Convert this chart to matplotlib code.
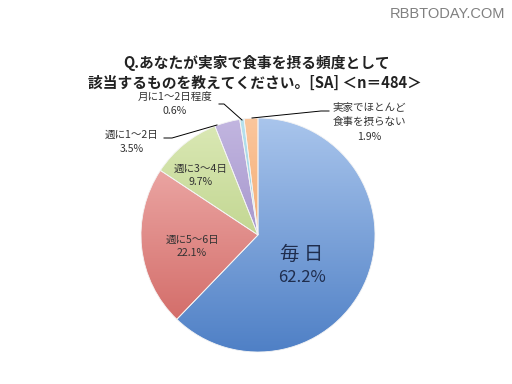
import matplotlib
matplotlib.use("Agg")
import matplotlib.pyplot as plt
import numpy as np
import matplotlib.colors as mcolors

plt.rcParams['font.family'] = ['Noto Sans CJK JP', 'DejaVu Sans']

# data
labels = ["毎 日", "週に5～6日", "週に3～4日", "週に1～2日", "月に1～2日程度", "実家でほとんど\n食事を摂らない"]
values = [62.2, 22.1, 9.7, 3.5, 0.6, 1.9]
pct_text = ["62.2%", "22.1%", "9.7%", "3.5%", "0.6%", "1.9%"]
light = ["#a9c5ec", "#f2b7b5", "#dbe9b6", "#c2b6e0", "#b8e2ee", "#fbc69c"]
dark = ["#4f80c6", "#cf625e", "#abc56f", "#8c79bb", "#6cb8cf", "#ee9550"]

H = 384
def Y(py):
    return H - py

fig = plt.figure(figsize=(5.12, 3.84), dpi=100)
ax = fig.add_axes([0, 0, 1, 1])

cx, cy, r = 258, 235, 117
wedges, _ = ax.pie(values, startangle=90, counterclock=False,
                   center=(cx, Y(cy)), radius=r,
                   colors=dark, wedgeprops=dict(edgecolor="#f4f4f4", linewidth=0.6))

# vertical gradient fill for each slice
grad = np.linspace(0, 1, 256).reshape(-1, 1)
for w, c1, c2 in zip(wedges, light, dark):
    cmap = mcolors.LinearSegmentedColormap.from_list("g", [c2, c1])
    im = ax.imshow(grad, cmap=cmap, origin="lower", aspect="auto",
                   extent=(cx - r, cx + r, Y(cy) - r, Y(cy) + r), zorder=w.get_zorder() + 0.1)
    im.set_clip_path(w)
    w.set_facecolor("none")
    w.set_zorder(w.get_zorder() + 0.2)

ax.set_xlim(0, 512)
ax.set_ylim(0, 384)
ax.set_aspect("equal")
ax.axis("off")

# title and watermark
ax.text(257, Y(63), "Q.あなたが実家で食事を摂る頻度として", ha="center", va="center",
        fontsize=10.6, fontweight="bold", color="#222222")
ax.text(255, Y(83), "該当するものを教えてください。[SA] ＜n＝484＞", ha="center", va="center",
        fontsize=10.6, fontweight="bold", color="#222222")
ax.text(505, Y(14), "RBBTODAY.COM", ha="right", va="center", fontsize=10.5,
        color="#808080", family=["Liberation Sans", "DejaVu Sans"])

# slice labels
fs = 7.6
ax.text(302, Y(254), labels[0], ha="center", va="center", fontsize=14, color="#1f2d4d")
ax.text(302, Y(277), pct_text[0], ha="center", va="center", fontsize=12, color="#1f2d4d")
ax.text(192, Y(240), labels[1], ha="center", va="center", fontsize=fs, color="#333333")
ax.text(192, Y(253), pct_text[1], ha="center", va="center", fontsize=fs, color="#333333")
ax.text(201, Y(169), labels[2], ha="center", va="center", fontsize=fs, color="#333333")
ax.text(201, Y(182), pct_text[2], ha="center", va="center", fontsize=fs, color="#333333")
ax.text(132, Y(135), labels[3], ha="center", va="center", fontsize=fs, color="#333333")
ax.text(132, Y(149), pct_text[3], ha="center", va="center", fontsize=fs, color="#333333")
ax.text(175, Y(97), labels[4], ha="center", va="center", fontsize=fs, color="#333333")
ax.text(175, Y(111), pct_text[4], ha="center", va="center", fontsize=fs, color="#333333")
ax.text(369, Y(108), "実家でほとんど", ha="center", va="center", fontsize=fs, color="#333333")
ax.text(369, Y(122), "食事を摂らない", ha="center", va="center", fontsize=fs, color="#333333")
ax.text(369, Y(137), pct_text[5], ha="center", va="center", fontsize=fs, color="#333333")

# leader lines
ax.plot([164, 172, 217], [Y(138), Y(138), Y(125)], color="black", lw=0.7)
ax.plot([219, 224, 242], [Y(104), Y(104), Y(120)], color="black", lw=0.7)
ax.plot([329, 321, 252], [Y(111), Y(111), Y(118)], color="black", lw=0.7)

fig.savefig("out.png", dpi=100)
